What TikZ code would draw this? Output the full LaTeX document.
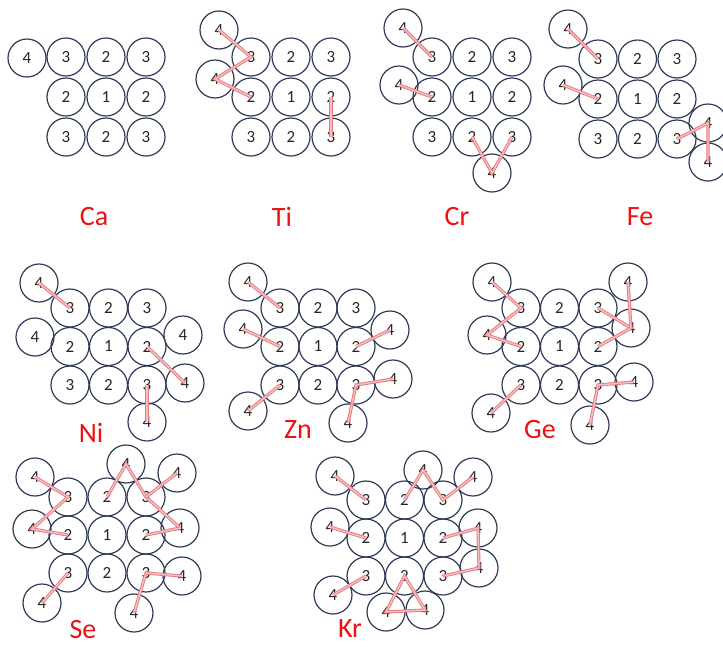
\documentclass[tikz,border=0pt]{standalone}
\usepackage{fontspec}
\setmainfont{Carlito}
\definecolor{navy}{HTML}{2F3A56}
\definecolor{bondred}{HTML}{E37A7E}
\definecolor{bondpink}{HTML}{F6BFC1}
\definecolor{labred}{HTML}{F01010}
\tikzset{
  atom/.style={circle, draw=navy, line width=1.2pt, minimum size=38pt, inner sep=0pt,
    text=black!85, font=\fontsize{17}{17}\selectfont},
  bond/.style={draw=bondred, double=bondpink, line width=0.9pt, double distance=1.4pt},
  elem/.style={text=labred, font=\fontsize{28}{28}\selectfont}
}
\newcommand\atomgrid[5]{%
  \foreach \r/\c/\t in {1/1/3,1/2/2,1/3/3,2/1/2,2/2/1,2/3/2,3/1/3,3/2/2,3/3/3}{%
    \node[atom] (#1\r\c) at ({#2+(\c-1)*#4},{#3+(\r-1)*#5}) {\t};
  }}
\begin{document}
\begin{tikzpicture}[x=1pt,y=-1pt]
\useasboundingbox (0,0) rectangle (723,646);
% ---------- Ca
\atomgrid{ca}{66}{57}{40}{40}
\node[atom] (ca4a) at (27,58) {4};
\node[elem] (caL) at (94,217) {Ca};
% ---------- Ti
\atomgrid{ti}{251}{57}{40}{40}
\node[atom] (ti4a) at (219,30) {4};
\node[atom] (ti4b) at (215,79) {4};
\node[elem] (tiL) at (282,217) {Ti};
\draw[bond] (ti4a.center) -- (ti11.center) -- (ti4b.center) -- (ti21.center);
\draw[bond] (ti23.center) -- (ti33.center);
% ---------- Cr
\atomgrid{cr}{432}{57}{40}{40}
\node[atom] (cr4a) at (403,28) {4};
\node[atom] (cr4b) at (399,85) {4};
\node[atom] (cr4c) at (492,173) {4};
\node[elem] (crL) at (457,217) {Cr};
\draw[bond] (cr4a.center) -- (cr11.center);
\draw[bond] (cr4b.center) -- (cr21.center);
\draw[bond] (cr32.center) -- (cr4c.center) -- (cr33.center);
% ---------- Fe
\atomgrid{fe}{598}{59}{39.5}{40}
\node[atom] (fe4a) at (568,29) {4};
\node[atom] (fe4b) at (563,85) {4};
\node[atom] (fe4c) at (708,123) {4};
\node[atom] (fe4d) at (708,162) {4};
\node[elem] (feL) at (640,217) {Fe};
\draw[bond] (fe4a.center) -- (fe11.center);
\draw[bond] (fe4b.center) -- (fe21.center);
\draw[bond] (fe33.center) -- (fe4c.center) -- (fe4d.center);
% ---------- Ni
\atomgrid{ni}{70}{308}{38.5}{38.5}
\node[atom] (ni4a) at (39,283) {4};
\node[atom] (ni4b) at (35,337) {4};
\node[atom] (ni4c) at (183,335) {4};
\node[atom] (ni4d) at (185,383) {4};
\node[atom] (ni4e) at (147,422) {4};
\node[elem] (niL) at (91,433) {Ni};
\draw[bond] (ni4a.center) -- (ni11.center);
\draw[bond] (ni23.center) -- (ni4d.center);
\draw[bond] (ni33.center) -- (ni4e.center);
% ---------- Zn
\atomgrid{zn}{280}{308}{38}{38.5}
\node[atom] (zn4a) at (248,282) {4};
\node[atom] (zn4b) at (243,329) {4};
\node[atom] (zn4c) at (390,330) {4};
\node[atom] (zn4d) at (393,379) {4};
\node[atom] (zn4e) at (248,411) {4};
\node[atom] (zn4f) at (348,423) {4};
\node[elem] (znL) at (298,430) {Zn};
\draw[bond] (zn4a.center) -- (zn11.center);
\draw[bond] (zn4b.center) -- (zn21.center);
\draw[bond] (zn23.center) -- (zn4c.center);
\draw[bond] (zn31.center) -- (zn4e.center);
\draw[bond] (zn4d.center) -- (zn33.center) -- (zn4f.center);
% ---------- Ge
\atomgrid{ge}{521}{308}{38.5}{38.5}
\node[atom] (ge4a) at (492,282) {4};
\node[atom] (ge4b) at (487,335) {4};
\node[atom] (ge4c) at (628,282) {4};
\node[atom] (ge4d) at (631,328) {4};
\node[atom] (ge4e) at (634,382) {4};
\node[atom] (ge4f) at (491,413) {4};
\node[atom] (ge4g) at (590,425) {4};
\node[elem] (geL) at (540,430) {Ge};
\draw[bond] (ge4a.center) -- (ge11.center) -- (ge4b.center) -- (ge21.center);
\draw[bond] (ge13.center) -- (ge4d.center) -- (ge23.center);
\draw[bond] (ge4c.center) -- (ge4d.center);
\draw[bond] (ge31.center) -- (ge4f.center);
\draw[bond] (ge4e.center) -- (ge33.center) -- (ge4g.center);
% ---------- Se
\atomgrid{se}{68}{497}{39}{38}
\node[atom] (se4a) at (35,477) {4};
\node[atom] (se4b) at (126,464) {4};
\node[atom] (se4c) at (177,473) {4};
\node[atom] (se4d) at (32,529) {4};
\node[atom] (se4e) at (180,528) {4};
\node[atom] (se4f) at (182,576) {4};
\node[atom] (se4g) at (42,603) {4};
\node[atom] (se4h) at (134,613) {4};
\node[elem] (seL) at (83,630) {Se};
\draw[bond] (se4a.center) -- (se11.center) -- (se4d.center) -- (se21.center);
\draw[bond] (se12.center) -- (se4b.center) -- (se13.center) -- (se4e.center);
\draw[bond] (se13.center) -- (se4c.center);
\draw[bond] (se23.center) -- (se4e.center);
\draw[bond] (se31.center) -- (se4g.center);
\draw[bond] (se4f.center) -- (se33.center) -- (se4h.center);
% ---------- Kr
\atomgrid{kr}{366}{500}{38.5}{38}
\node[atom] (kr4a) at (335,476) {4};
\node[atom] (kr4b) at (423,470) {4};
\node[atom] (kr4c) at (473,477) {4};
\node[atom] (kr4d) at (330,527) {4};
\node[atom] (kr4e) at (478,528) {4};
\node[atom] (kr4f) at (479,568) {4};
\node[atom] (kr4g) at (333,595) {4};
\node[atom] (kr4h) at (386,612) {4};
\node[atom] (kr4i) at (425,610) {4};
\node[elem] (krL) at (350,629) {Kr};
\draw[bond] (kr4a.center) -- (kr11.center);
\draw[bond] (kr4d.center) -- (kr21.center);
\draw[bond] (kr12.center) -- (kr4b.center) -- (kr13.center) -- (kr4c.center);
\draw[bond] (kr23.center) -- (kr4e.center) -- (kr4f.center) -- (kr33.center);
\draw[bond] (kr31.center) -- (kr4g.center);
\draw[bond] (kr32.center) -- (kr4h.center) -- (kr4i.center) -- cycle;
\end{tikzpicture}
\end{document}
